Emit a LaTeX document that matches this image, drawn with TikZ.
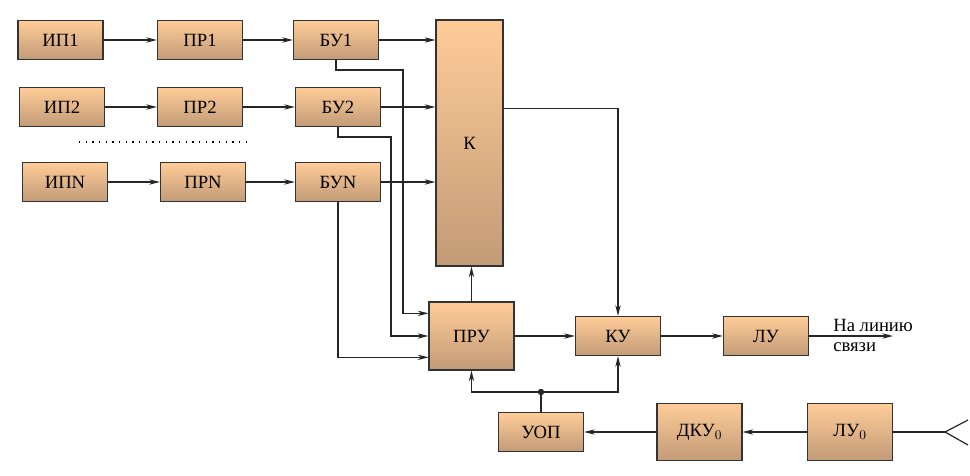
\documentclass[tikz,border=0pt]{standalone}
\usepackage{fontspec}
\setmainfont{Liberation Serif}
\usetikzlibrary{arrows.meta}
\definecolor{boxtop}{HTML}{FFCC98}
\definecolor{boxbot}{HTML}{C29B77}
\begin{document}
\begin{tikzpicture}[x=0.75pt,y=-0.75pt,line cap=butt,line join=miter,font=\fontsize{14}{16}\selectfont]
		\tikzset{blok/.style={draw=black!80,line width=0.9pt,top color=boxtop,bottom color=boxbot,
				minimum width=63.75pt,minimum height=29.25pt,inner sep=0pt},
			arr/.style={draw=black!85,line width=0.9pt,-{Stealth[length=8pt,width=4pt,inset=2.5pt]}},
			lin/.style={draw=black!85,line width=0.9pt}}
		\useasboundingbox (0,0) rectangle (970,475);
		%--------- Блоки
		\node[blok] (ip1) at (60.5,40) {ИП1};
		\node[blok] (pr1) at (200,40) {ПР1};
		\node[blok] (bu1) at (336,40) {БУ1};
		\node[blok] (ip2) at (62,107) {ИП2};
		\node[blok] (pr2) at (200,107) {ПР2};
		\node[blok] (bu2) at (338,107) {БУ2};
		\node[blok] (ipn) at (65,182) {ИПN};
		\node[blok] (prn) at (203,182) {ПРN};
		\node[blok] (bun) at (338,182) {БУN};
		\node[blok,minimum width=50.25pt,minimum height=184.5pt] (k) at (469.5,143) {К};
		\node[blok,minimum height=51pt] (pru) at (471.5,336) {ПРУ};
		\node[blok] (ku) at (618,336) {КУ};
		\node[blok] (lu) at (766,336) {ЛУ};
		\node[blok] (uop) at (541,432) {УОП};
		\node[blok,minimum height=42.75pt] (dku) at (699.5,432) {ДКУ$_0$};
		\node[blok,minimum height=42.75pt] (lu0) at (850,432) {ЛУ$_0$};
		\draw[line width=0.9pt,dash pattern=on 0.9pt off 4.1pt] (79,142)--(252,142);
		%--------- Связи
		\draw[arr] (ip1)--(pr1);
		\draw[arr] (pr1)--(bu1);
		\draw[arr] (ip2)--(pr2);
		\draw[arr] (pr2)--(bu2);
		\draw[arr] (ipn)--(prn);
		\draw[arr] (prn)--(bun);
		\draw[arr] (bu1.east)--(k.west|-bu1.east);
		\draw[arr] (bu2.east)--(k.west|-bu2.east);
		\draw[arr] (bun.east)--(k.west|-bun.east);
		\draw[arr] (bu1.south) |- (403,70) |- ([yshift=17pt]pru.west);
		\draw[arr] (bu2.south) |- (391,137) |- (pru.west);
		\draw[arr] (bun.south) |- ([yshift=-16pt]pru.west);
		\draw[arr] (pru.north)--(pru.north|-k.south);
		\draw[arr] (pru)--(ku);
		\draw[arr] ([yshift=26pt]k.east) -| (ku.north);
		\draw[arr] (ku)--(lu);
		\coordinate (out) at (893,336);
		\draw[arr] (lu.east)--(out);
		\node[anchor=south west,inner sep=0pt] (nal) at (833,332) {На линию};
		\node[anchor=north west,inner sep=0pt] (sv) at (833,342) {связи};
		%--------- Обратный канал
		\coordinate (jn) at (541,392);
		\draw[arr] (jn) -| (pru.south);
		\draw[arr] (jn) -| (ku.south);
		\draw[lin] (uop.north)--(jn);
		\fill[black!85] (jn) circle (2.4pt);
		\draw[arr] (lu0)--(dku);
		\draw[arr] (dku)--(uop);
		\coordinate (ant) at (945,432);
		\draw[lin] (lu0.east)--(ant);
		\draw[lin] (968,420)--(ant)--(968,445);
	\end{tikzpicture}
\end{document}
